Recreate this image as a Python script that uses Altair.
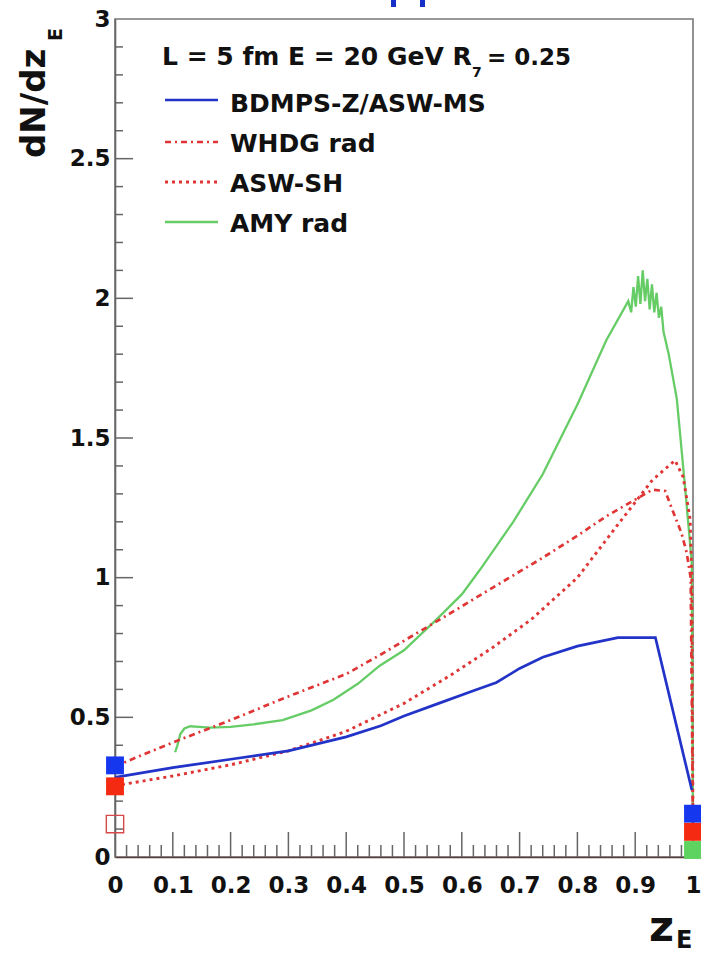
import altair as alt
import pandas as pd

FONT = "DejaVu Sans"

# ---------------- data ----------------
# BDMPS-Z/ASW-MS (blue, solid)
bd_x = [0.0, 0.1, 0.2, 0.3, 0.4, 0.46, 0.5, 0.56, 0.62, 0.66, 0.7, 0.74, 0.8, 0.87, 0.935, 0.998]
bd_y = [0.285, 0.32, 0.35, 0.38, 0.43, 0.47, 0.505, 0.55, 0.595, 0.625, 0.675, 0.715, 0.755, 0.785, 0.785, 0.24]

# WHDG rad (red, dash-dot)
wh_x = [0.0, 0.1, 0.2, 0.3, 0.4, 0.46, 0.57, 0.65, 0.735, 0.8, 0.85, 0.93, 0.952, 0.963, 0.98, 0.989, 0.996, 1.0]
wh_y = [0.325, 0.41, 0.49, 0.575, 0.655, 0.725, 0.86, 0.96, 1.065, 1.15, 1.22, 1.315, 1.31, 1.25, 1.16, 1.09, 1.0, 0.1]

# ASW-SH (red, dotted)
sh_x = [0.0, 0.1, 0.2, 0.3, 0.4, 0.5, 0.58, 0.65, 0.72, 0.8, 0.87, 0.93, 0.969, 0.983, 0.995, 0.998, 1.0]
sh_y = [0.255, 0.29, 0.33, 0.38, 0.45, 0.55, 0.65, 0.745, 0.85, 1.0, 1.19, 1.35, 1.42, 1.36, 1.21, 1.0, 0.1]

# AMY rad (green, solid)
amy_x = [0.104, 0.108, 0.113, 0.12, 0.13, 0.145, 0.165, 0.2, 0.24, 0.29, 0.34, 0.378, 0.42, 0.458,
         0.5, 0.556, 0.6, 0.632, 0.689, 0.74, 0.8, 0.85, 0.888, 0.893, 0.897, 0.901, 0.905, 0.909,
         0.913, 0.917, 0.921, 0.925, 0.929, 0.933, 0.937, 0.941, 0.945, 0.949, 0.958, 0.972, 0.986,
         0.998, 1.0]
amy_y = [0.375, 0.40, 0.44, 0.46, 0.468, 0.466, 0.463, 0.466, 0.475, 0.49, 0.525, 0.563, 0.62, 0.685,
         0.74, 0.85, 0.94, 1.03, 1.2, 1.37, 1.62, 1.85, 1.99, 1.95, 2.04, 1.97, 2.08, 1.98,
         2.10, 1.99, 2.07, 1.96, 2.05, 1.95, 2.02, 1.93, 1.97, 1.88, 1.80, 1.64, 1.33,
         1.05, 0.02]

# end-point markers
sq_x = [0.0, 0.0, 1.0, 1.0, 1.0]
sq_y = [0.328, 0.253, 0.155, 0.09, 0.025]
sq_c = ["#1538ee", "#f42a12", "#1538ee", "#f42a12", "#5fd35f"]
open_x = [0.0]
open_y = [0.118]

# axes
x_major = [0.0, 0.1, 0.2, 0.3, 0.4, 0.5, 0.6, 0.7, 0.8, 0.9, 1.0]
x_minor = [round(i * 0.02, 2) for i in range(51) if i % 5 != 0]
y_major = [0.0, 0.5, 1.0, 1.5, 2.0, 2.5, 3.0]
y_minor = [round(i * 0.1, 1) for i in range(31) if i % 5 != 0]

legend_names = ["BDMPS-Z/ASW-MS", "WHDG rad", "ASW-SH", "AMY rad"]
legend_header = ["L = 5 fm E = 20 GeV R", "7", "= 0.25"]

W, H = 578, 838
BLUE = "#2233c8"
RED = "#e03535"
GREEN = "#66cc66"

xs = alt.Scale(domain=[0, 1], nice=False, zero=False)
ys = alt.Scale(domain=[0, 3], nice=False, zero=False)

X_AXIS = alt.Axis(
    values=x_major, format="~g", title=None, grid=False, ticks=False, labelFlush=False,
    labelOverlap=False, labelPadding=17, labelFont=FONT, labelFontWeight="bold",
    labelFontSize=23, labelColor="#111", domainColor="#5a3a3a", domainWidth=1.6)
Y_AXIS = alt.Axis(
    values=y_major, format="~g", title=None, grid=False, ticks=False, labelFlush=False,
    labelOverlap=False, labelPadding=5, labelFont=FONT, labelFontWeight="bold",
    labelFontSize=23, labelColor="#111", domainColor="#666", domainWidth=1.6)


def X():
    return alt.X("x:Q", scale=xs, axis=X_AXIS)


def Y():
    return alt.Y("y:Q", scale=ys, axis=Y_AXIS)


def line(xv, yv, color, dash=None, width=2.4):
    df = pd.DataFrame({"x": xv, "y": yv, "i": list(range(len(xv)))})
    kw = dict(color=color, strokeWidth=width, clip=False)
    if dash:
        kw["strokeDash"] = dash
    return alt.Chart(df).mark_line(**kw).encode(x=X(), y=Y(), order="i:Q")


def txt(s, px, py, size, angle=0, color="#111", align="left"):
    return alt.Chart(pd.DataFrame({"t": [s]})).mark_text(
        font=FONT, fontWeight="bold", fontSize=size, angle=angle, align=align,
        baseline="alphabetic", color=color
    ).encode(x=alt.value(px), y=alt.value(py), text="t:N")


def seg(x1, x2, y, color, dash=None, width=2.4):
    kw = dict(color=color, strokeWidth=width)
    if dash:
        kw["strokeDash"] = dash
    return alt.Chart(pd.DataFrame({"a": [0]})).mark_rule(**kw).encode(
        x=alt.value(x1), x2=alt.value(x2), y=alt.value(y)
    )


axes = alt.Chart(pd.DataFrame({"x": [0.0, 1.0], "y": [0.0, 3.0]})).mark_point(opacity=0).encode(
    x=X(), y=Y())

tick_x_major = alt.Chart(pd.DataFrame({"x": x_major[1:-1]})).mark_rule(color="#666", strokeWidth=1.5).encode(
    x=X(), y=alt.value(H), y2=alt.value(H - 25))
tick_x_minor = alt.Chart(pd.DataFrame({"x": x_minor})).mark_rule(color="#666", strokeWidth=1.5).encode(
    x=X(), y=alt.value(H), y2=alt.value(H - 12))
tick_y_major = alt.Chart(pd.DataFrame({"y": y_major[1:-1]})).mark_rule(color="#666", strokeWidth=1.5).encode(
    y=Y(), x=alt.value(0), x2=alt.value(18))
tick_y_minor = alt.Chart(pd.DataFrame({"y": y_minor})).mark_rule(color="#666", strokeWidth=1.5).encode(
    y=Y(), x=alt.value(0), x2=alt.value(8))

green = line(amy_x, amy_y, GREEN, width=2.3)
whdg = line(wh_x, wh_y, RED, dash=[6, 4, 2, 4], width=2.7)
aswsh = line(sh_x, sh_y, RED, dash=[3, 4], width=2.9)
blue = line(bd_x, bd_y, BLUE, width=2.7)

sq_df = pd.DataFrame({"x": sq_x, "y": sq_y, "c": sq_c})
squares = alt.Chart(sq_df).mark_square(size=320, opacity=1, clip=False).encode(
    x=X(), y=Y(), color=alt.Color("c:N", scale=None))
open_sq = alt.Chart(pd.DataFrame({"x": open_x, "y": open_y})).mark_square(
    size=300, filled=False, color="#d84848", strokeWidth=1.4, opacity=1).encode(x=X(), y=Y())

# legend (inside the frame, upper left)
leg = [
    txt(legend_header[0], 47, 46, 25),
    txt(legend_header[1], 357, 58, 14),
    txt(legend_header[2], 372, 46, 23),
    seg(50, 103, 81, BLUE, width=2.7),
    seg(50, 103, 123, RED, dash=[6, 4, 2, 4], width=2.7),
    seg(50, 103, 163, RED, dash=[3, 4], width=2.9),
    seg(50, 103, 203, GREEN, width=2.3),
    txt(legend_names[0], 115, 93, 25),
    txt(legend_names[1], 115, 133, 25),
    txt(legend_names[2], 115, 173, 25),
    txt(legend_names[3], 115, 213, 25),
]

# axis titles
titles = [
    txt("dN/dz", -70, 139, 34, angle=270),
    txt("E", -53, 22, 19, angle=270),
    txt("z", 534, 922, 43),
    txt("E", 561, 929, 24),
]

# cut-off glyph fragments at the very top
frag = [
    alt.Chart(pd.DataFrame({"a": [0]})).mark_rule(color="#1530c8", strokeWidth=5).encode(
        x=alt.value(278.5), y=alt.value(-19), y2=alt.value(-12)),
    alt.Chart(pd.DataFrame({"a": [0]})).mark_rule(color="#1530c8", strokeWidth=5).encode(
        x=alt.value(307.5), y=alt.value(-19), y2=alt.value(-12)),
]

chart = alt.layer(
    axes, tick_x_major, tick_x_minor, tick_y_major, tick_y_minor,
    green, whdg, aswsh, blue, squares, open_sq, *leg, *titles, *frag
).properties(
    width=W, height=H,
    autosize=alt.AutoSizeParams(type="none"),
    padding={"left": 115, "top": 19, "right": 8, "bottom": 98},
    background="white",
).configure_view(stroke="#777", strokeWidth=1.6)

chart.save("out.html", embed_options={"renderer": "svg", "actions": False})
